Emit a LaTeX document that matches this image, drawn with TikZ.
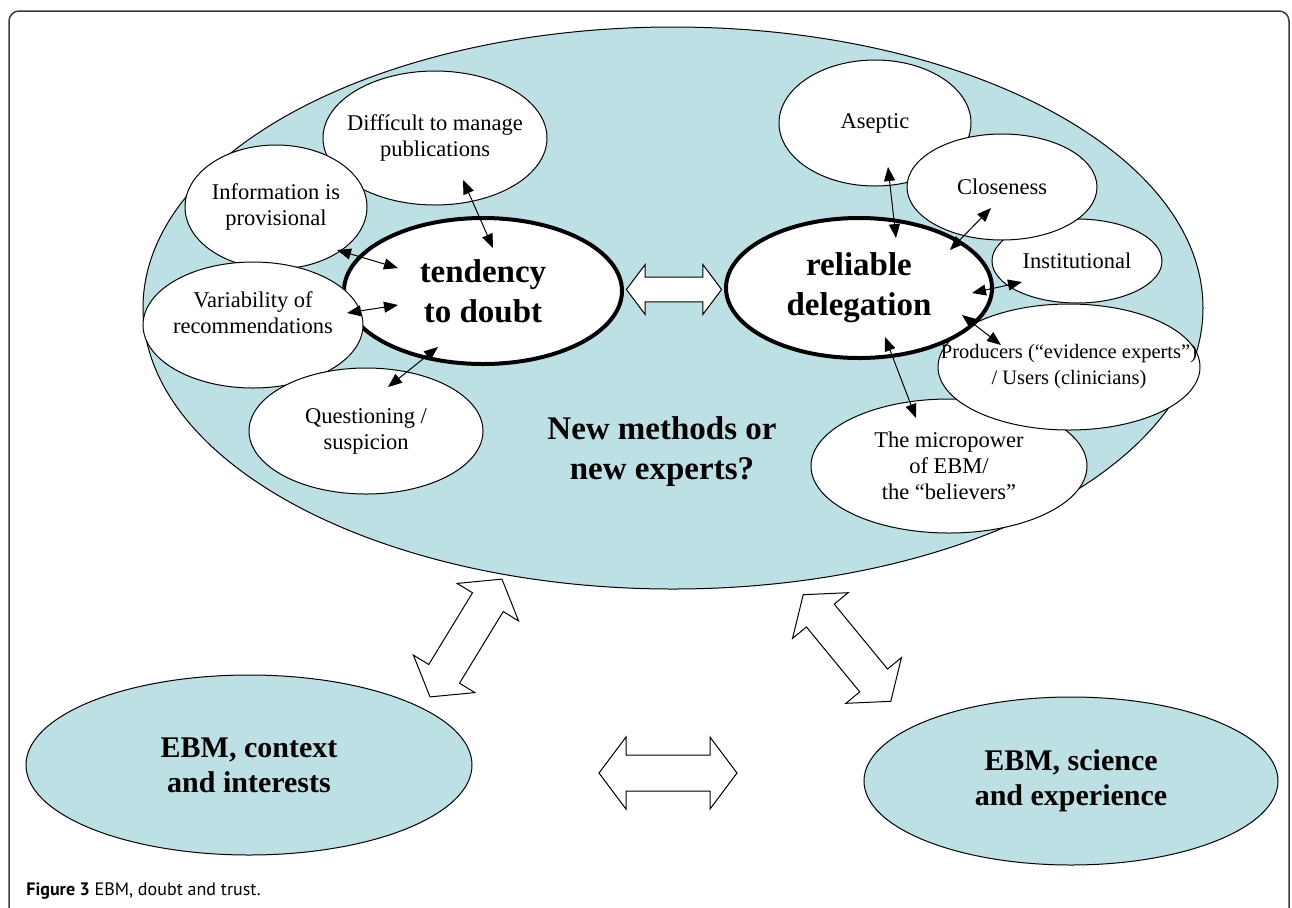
\documentclass[tikz,border=0pt]{standalone}
\usepackage{fontspec}
\setmainfont{Liberation Serif}[Ligatures=CommonOff]
\newfontfamily\capfont{PT Sans}
\usetikzlibrary{shapes.geometric,arrows.meta,calc}

\definecolor{ebmblue}{RGB}{188,224,227}
\definecolor{framegray}{RGB}{60,60,60}

\tikzset{
  pics/dblarrow/.style={code={
    \draw[fill=white,line width=0.5pt] (-69,0) -- (-42,-36) -- (-42,-18) -- (42,-18) -- (42,-36)
      -- (69,0) -- (42,36) -- (42,18) -- (-42,18) -- (-42,36) -- cycle;
  }}
}

\begin{document}
\begin{tikzpicture}[x=0.5pt,y=-0.5pt,
    bubble/.style={ellipse,draw,fill=white,line width=0.5pt,inner xsep=-20pt,inner ysep=0pt,align=center,
      font=\fontsize{11.25}{13}\selectfont},
    core/.style={bubble,line width=2pt,font=\fontsize{16.5}{20}\selectfont\bfseries},
    field/.style={ellipse,draw,fill=ebmblue,line width=0.5pt,inner sep=0pt,align=center,
      font=\fontsize{15}{17.5}\selectfont\bfseries},
    link/.style={{Triangle[length=7pt,width=5.5pt]}-{Triangle[length=7pt,width=5.5pt]},line width=0.5pt}]
    \clip (0,0) rectangle (1292,907);

    % Draw the big field
    \node[field,minimum width=530pt,minimum height=281pt] (big) at (673,308) {};

    % Doubt side
    \node[core,minimum width=139pt,minimum height=73pt] (doubt) at (483,291) {tendency\\to doubt};
    \node[bubble,minimum width=112pt,minimum height=67pt] (diff) at (435,138) {Diffícult to manage\\publications};
    \node[bubble,minimum width=91pt,minimum height=62pt] (info) at (276,207) {Information is\\provisional};
    \node[bubble,minimum width=110pt,minimum height=63pt,text depth=12pt] (var) at (253,325) {Variability of\\recommendations};
    \node[bubble,minimum width=117pt,minimum height=63pt] (quest) at (366,431) {Questioning /\\suspicion};

    % Trust side
    \node[bubble,minimum width=96pt,minimum height=63pt] (asep) at (875,123) {Aseptic};
    \node[bubble,minimum width=85pt,minimum height=42pt] (inst) at (1077,261) {Institutional};
    \node[bubble,minimum width=95pt,minimum height=53pt] (close) at (1002,187) {Closeness};
    \node[bubble,minimum width=138pt,minimum height=67pt] (micro) at (949,466) {The micropower\\of EBM/\\the “believers”};
    \node[bubble,minimum width=131pt,minimum height=63pt,font=\fontsize{10.25}{13}\selectfont] (prod) at (1069,367)
      {Producers (“evidence experts”)\\/ Users (clinicians)};
    \node[core,minimum width=133pt,minimum height=70pt] (rel) at (859,288) {reliable\\delegation};

    \node[align=center,font=\fontsize{16.5}{20}\selectfont\bfseries] (ask) at (662,452) {New methods or\\new experts?};

    % Draw the small links
    \draw[link] ($(diff)+(28,42)$) -- ($(doubt)+(10,-43)$);
    \draw[link] ($(info)+(61,43)$) -- ($(doubt)+(-85,-23)$);
    \draw[link] ($(var)+(94,-12)$) -- ($(doubt)+(-85,14)$);
    \draw[link] ($(quest)+(22,-44)$) -- ($(doubt)+(-45,56)$);
    \draw[link] ($(asep)+(13,44)$) -- ($(rel)+(37,-50)$);
    \draw[link] ($(close)+(-11,21)$) -- ($(rel)+(91,-38)$);
    \draw[link] ($(inst)+(-55,21)$) -- ($(rel)+(113,5)$);
    \draw[link] ($(prod)+(-68,-22)$) -- ($(rel)+(103,27)$);
    \draw[link] ($(micro)+(-33,-48)$) -- ($(rel)+(26,49)$);

    % Lower fields
    \node[field,minimum width=223pt,minimum height=90pt] (ctx) at (249,765) {EBM, context\\and interests};
    \node[field,minimum width=207pt,minimum height=84pt] (sci) at (1071,781) {EBM, science\\and experience};

    % Draw the block arrows
    \pic[scale=0.69] at ($(doubt.east)!0.5!(rel.west)$) {dblarrow};
    \pic at ($(ctx.east)!0.5!(sci.west)$) {dblarrow};
    \pic[rotate=58.6] at (466,638) {dblarrow};
    \pic[rotate=-50.6] at (847,648) {dblarrow};

    % Caption and frame
    \node[anchor=base west,inner sep=0pt,font=\capfont\fontsize{9}{11}\selectfont] (cap) at (26,895)
      {\textbf{Figure 3} EBM, doubt and trust.};
    \draw[framegray,line width=0.75pt,rounded corners=5pt] (9,11) rectangle (1289,940);
\end{tikzpicture}
\end{document}
